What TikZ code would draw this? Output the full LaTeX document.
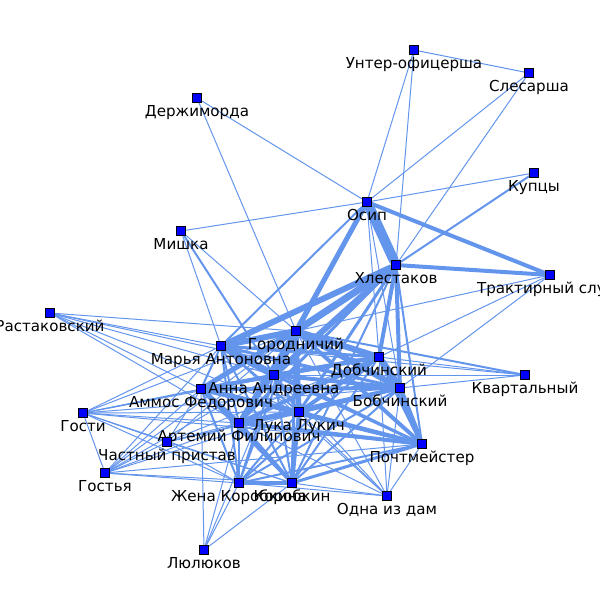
\documentclass[tikz,border=0pt]{standalone}
\usepackage{fontspec}
\setmainfont{DejaVu Sans}
\usepackage{xcolor}
\usepackage{tikz}
\definecolor{rebro}{HTML}{6495ED}
\definecolor{uzel}{HTML}{0000FF}
\pgfdeclarelayer{fon}
\pgfsetlayers{fon,main}

\begin{document}
\begin{tikzpicture}[x=0.02cm,y=-0.02cm,
  persona/.style={draw=black,fill=uzel,line width=0.45pt,minimum size=5.2pt,inner sep=0pt,
    label distance=0.9pt,label={[podpis]below:#1}},
  podpis/.style={font=\fontsize{8.6}{10}\selectfont,text=black,text height=0.75em,text depth=0.2em,inner sep=0pt},
  svyaz/.style={draw=rebro,line cap=round}]
\useasboundingbox (0,0) rectangle (600,600);
\clip (0,0) rectangle (600,600);
% personazhi
\node[persona=Унтер-офицерша] (unter) at (414,50) {};
\node[persona=Слесарша] (sles) at (529,73) {};
\node[persona=Держиморда] (derzh) at (197,98) {};
\node[persona=Купцы] (kupcy) at (534,173) {};
\node[persona=Осип] (osip) at (367,202) {};
\node[persona=Мишка] (mishka) at (181,231) {};
\node[persona=Хлестаков] (hlest) at (396,265) {};
\node[persona=Трактирный слуга] (traktir) at (550,275) {};
\node[persona=Растаковский] (rast) at (50,313) {};
\node[persona=Городничий] (gorod) at (296,331) {};
\node[persona=Марья Антоновна] (marya) at (221,346) {};
\node[persona=Добчинский] (dobch) at (379,357) {};
\node[persona=Анна Андреевна] (anna) at (274,375) {};
\node[persona=Квартальный] (kvart) at (525,375) {};
\node[persona=Аммос Федорович] (ammos) at (201,389) {};
\node[persona=Бобчинский] (bobch) at (400,388) {};
\node[persona=Гости] (gosti) at (83,413) {};
\node[persona=Лука Лукич] (luka) at (299,412) {};
\node[persona=Артемий Филипович] (artem) at (239,423) {};
\node[persona=Частный пристав] (chastn) at (167,442) {};
\node[persona=Почтмейстер] (pochtm) at (422,444) {};
\node[persona=Гостья] (gostya) at (105,473) {};
\node[persona=Жена Коробкина] (zhena) at (239,483) {};
\node[persona=Коробкин] (korob) at (292,483) {};
\node[persona=Одна из дам] (odna) at (387,496) {};
\node[persona=Люлюков] (lyul) at (204,550) {};
% svyazi (tolshchina v pikselyah)
\begin{pgfonlayer}{fon}
\foreach \a/\b/\w in {hlest/osip/10,hlest/gorod/7,hlest/anna/6,hlest/marya/6,hlest/dobch/4,
    hlest/bobch/4,hlest/luka/3,hlest/artem/3,hlest/ammos/3,hlest/pochtm/2,hlest/korob/2,
    hlest/traktir/4,hlest/kupcy/2,hlest/unter/1,hlest/sles/1,
    osip/gorod/5,osip/anna/3,osip/marya/2,osip/dobch/1,osip/bobch/1,osip/traktir/4,
    osip/kupcy/1,osip/sles/1,osip/unter/1,osip/derzh/1,osip/mishka/1,unter/sles/1,
    gorod/anna/8,gorod/marya/6,gorod/dobch/6,gorod/bobch/6,gorod/luka/5,gorod/artem/5,
    gorod/ammos/5,gorod/pochtm/4,gorod/korob/3,gorod/zhena/2,gorod/derzh/1,gorod/mishka/1,
    gorod/traktir/1,gorod/kvart/2,
    anna/marya/7,anna/dobch/4,anna/bobch/4,anna/luka/3,anna/artem/3,anna/ammos/3,
    anna/pochtm/3,anna/korob/2,anna/zhena/2,anna/mishka/2,anna/kvart/1,
    marya/dobch/3,marya/bobch/3,marya/luka/2,marya/artem/2,marya/ammos/2,marya/pochtm/2,
    marya/korob/2,marya/zhena/2,marya/mishka/1,marya/kvart/1,
    dobch/bobch/7,dobch/luka/4,dobch/artem/4,dobch/ammos/4,dobch/pochtm/4,dobch/korob/2,
    dobch/zhena/2,dobch/traktir/1,dobch/kvart/1,
    bobch/luka/4,bobch/artem/4,bobch/ammos/4,bobch/pochtm/5,bobch/korob/2,bobch/zhena/2,
    bobch/traktir/1,bobch/kvart/1,
    luka/artem/5,luka/ammos/5,luka/pochtm/4,luka/korob/4,luka/zhena/2,
    artem/ammos/5,artem/pochtm/4,artem/korob/4,artem/zhena/3,
    ammos/pochtm/4,ammos/korob/3,ammos/zhena/2,pochtm/korob/3,pochtm/zhena/2,korob/zhena/4}
  \draw[svyaz,line width=\w*0.569pt] (\a) -- (\b);
% gosti
\foreach \a/\b in {rast/gorod,rast/marya,rast/anna,rast/ammos,rast/artem,rast/luka,rast/bobch,
    gosti/gostya,gosti/gorod,gosti/anna,gosti/marya,gosti/ammos,gosti/artem,gosti/luka,
    gosti/dobch,gosti/bobch,gosti/pochtm,gosti/korob,gosti/zhena,gosti/chastn,
    gostya/gorod,gostya/anna,gostya/marya,gostya/ammos,gostya/artem,gostya/luka,
    gostya/korob,gostya/zhena,gostya/chastn,gostya/pochtm,
    chastn/gorod,chastn/ammos,chastn/artem,chastn/luka,chastn/zhena,chastn/korob,
    chastn/dobch,chastn/bobch,
    lyul/zhena,lyul/korob,lyul/artem,lyul/ammos,lyul/gorod,
    odna/gorod,odna/anna,odna/marya,odna/dobch,odna/bobch,odna/luka,odna/pochtm,
    odna/korob,odna/zhena,odna/artem}
  \draw[svyaz,line width=0.569pt] (\a) -- (\b);
\end{pgfonlayer}
\end{tikzpicture}
\end{document}
